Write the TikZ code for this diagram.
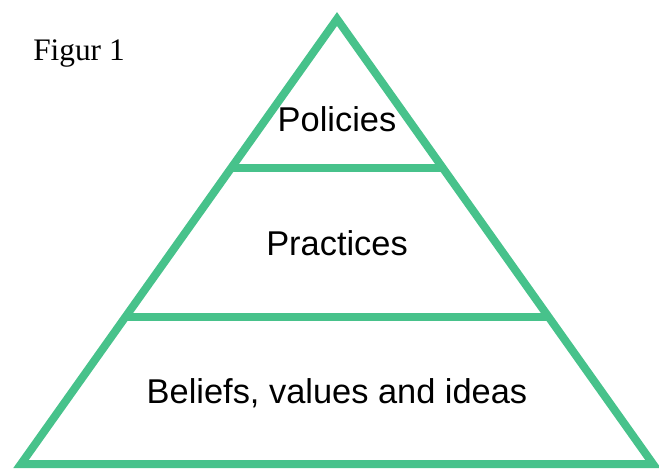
\documentclass[tikz,border=0pt]{standalone}
\usepackage{fontspec}
\setmainfont{Liberation Serif}
\newfontfamily\pyrfont{Liberation Sans}
\definecolor{pyrgreen}{RGB}{71,194,139}
\tikzset{
	pyrline/.style={pyrgreen, line width=6pt, line join=miter},
	pyrlabel/.style={anchor=base, inner sep=0pt, font=\pyrfont\fontsize{25.8pt}{30pt}\selectfont}
}

\begin{document}
\begin{tikzpicture}[x=0.75pt, y=-0.75pt]
		\useasboundingbox (0,0) rectangle (659,469);
		\draw[pyrline] (337,19) -- (653,464) -- (21,464) -- cycle;
		\foreach \y/\l/\r in {168/231/443, 317/125.5/548.5} \draw[pyrline] (\l,\y) -- (\r,\y);
		\node[pyrlabel] (policies) at (337,131) {Policies};
		\node[pyrlabel] (practices) at (337,255) {Practices};
		\node[pyrlabel] (beliefs) at (337,403) {Beliefs, values and ideas};
		\node[anchor=base west, inner sep=0pt, font=\fontsize{23.5pt}{28pt}\selectfont] (figur) at (33,60) {Figur 1};
	\end{tikzpicture}
\end{document}
